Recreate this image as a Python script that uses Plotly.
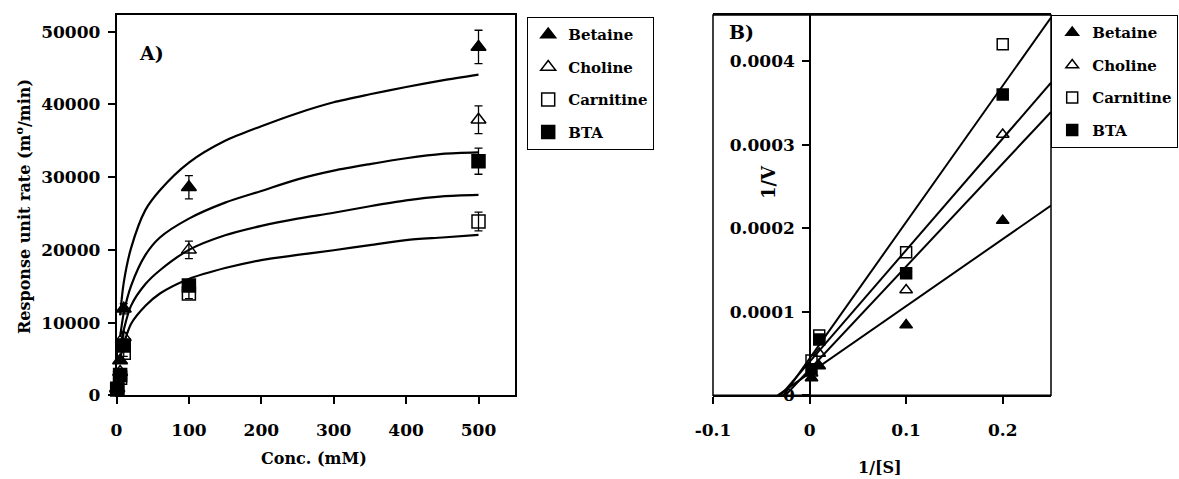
import plotly.graph_objects as go

W, H = 1179, 479
FONT = "DejaVu Serif"
FS = 16
TFS = 17


def px(x):
    return x / W


def py(y):
    return 1 - y / H


# ---------------- data ----------------
series = ["Betaine", "Choline", "Carnitine", "BTA"]

# Panel A: response rate vs concentration
conc = [1, 5, 10, 100, 500]
rate_betaine = [1000, 4800, 11900, 28600, 47900]
err_betaine = [200, 400, 700, 1600, 2300]
rate_choline = [900, 3200, 8000, 20000, 37900]
err_choline = [150, 300, 600, 1200, 1900]
rate_carnitine = [800, 2400, 5850, 14000, 23900]
err_carnitine = [150, 300, 500, 700, 1300]
rate_bta = [900, 2800, 6850, 15100, 32200]
err_bta = [150, 300, 500, 700, 1800]

# Panel A: fitted curves
curve_x = [5, 10, 20, 40, 60, 100, 150, 200, 250, 300, 350, 400, 450, 500]
curve_betaine = [11000, 15500, 20200, 25500, 28200, 32000, 35000, 37000, 38800, 40300, 41400, 42400, 43300, 44100]
curve_choline = [8000, 11300, 15000, 19300, 21700, 24300, 26500, 28100, 29700, 30900, 31800, 32600, 33200, 33400]
curve_bta = [6500, 9000, 12300, 15300, 17200, 20000, 22000, 23300, 24300, 25100, 26000, 26800, 27350, 27550]
curve_carnitine = [5000, 7000, 9800, 12300, 14000, 16000, 17500, 18600, 19300, 19950, 20650, 21350, 21700, 22050]

# Panel B: Lineweaver-Burk
inv_s = [0.002, 0.01, 0.1, 0.2]
inv_v_betaine = [0.0000208, 0.0000350, 0.0000840, 0.000209]
inv_v_choline = [0.0000264, 0.0000500, 0.0001260, 0.000312]
inv_v_carnitine = [0.0000415, 0.0000714, 0.000171, 0.000420]
inv_v_bta = [0.0000313, 0.0000667, 0.000146, 0.000360]

# Panel B fitted lines: x where line meets y=0, and y at x=0.25
lb_x_start = [-0.033, -0.030, -0.027, -0.025]   # Betaine, Choline, Carnitine, BTA
lb_x_end = 0.25
lb_y_end = [0.000227, 0.000374, 0.000452, 0.000339]

a_tick_x = [0, 100, 200, 300, 400, 500]
a_tick_y = [0, 10000, 20000, 30000, 40000, 50000]
b_tick_x = [-0.1, 0, 0.1, 0.2]
b_tick_x_text = ["-0.1", "0", "0.1", "0.2"]
b_tick_y = [0, 0.0001, 0.0002, 0.0003, 0.0004]
b_tick_y_text = ["0", "0.0001", "0.0002", "0.0003", "0.0004"]

# ---------------- styles ----------------
sym = {"Betaine": "triangle-up", "Choline": "triangle-up-open",
       "Carnitine": "square-open", "BTA": "square"}
rates = {"Betaine": (rate_betaine, err_betaine), "Choline": (rate_choline, err_choline),
         "Carnitine": (rate_carnitine, err_carnitine), "BTA": (rate_bta, err_bta)}
curves = [curve_betaine, curve_choline, curve_bta, curve_carnitine]
invv = {"Betaine": inv_v_betaine, "Choline": inv_v_choline,
        "Carnitine": inv_v_carnitine, "BTA": inv_v_bta}

fig = go.Figure()

# fitted curves A
for c in curves:
    fig.add_trace(go.Scatter(x=curve_x, y=c, mode="lines",
                             line=dict(color="black", width=2.2, shape="spline", smoothing=0.8),
                             showlegend=False, hoverinfo="skip", xaxis="x", yaxis="y"))

# data A
for s in series:
    r, e = rates[s]
    fig.add_trace(go.Scatter(
        x=conc, y=r, mode="markers", name=s, legend="legend", legendgroup="a" + s,
        marker=dict(symbol=sym[s], size=13, color="black", line=dict(color="black", width=1.5)),
        error_y=dict(type="data", array=e, color="black", thickness=1.3, width=4),
        xaxis="x", yaxis="y", cliponaxis=False))

# fitted lines B
for i, s in enumerate(series):
    fig.add_trace(go.Scatter(x=[lb_x_start[i], lb_x_end], y=[0, lb_y_end[i]], mode="lines",
                             line=dict(color="black", width=2), showlegend=False, hoverinfo="skip",
                             xaxis="x2", yaxis="y2"))

# data B
for s in series:
    fig.add_trace(go.Scatter(
        x=inv_s, y=invv[s], mode="markers", name=s, legend="legend2", legendgroup="b" + s,
        marker=dict(symbol=sym[s], size=11, color="black", line=dict(color="black", width=1.5)),
        xaxis="x2", yaxis="y2"))

tickfont = dict(family=FONT, size=TFS, color="black", weight="bold")
axis_common = dict(showgrid=False, zeroline=False, showline=True, linecolor="black", linewidth=1.5,
                   ticks="outside", ticklen=7, tickwidth=1.5, tickcolor="black", tickfont=tickfont)

legend_common = dict(yanchor="top", bordercolor="black", borderwidth=1.2,
                     bgcolor="white", font=dict(family=FONT, size=15, color="black", weight="bold"),
                     traceorder="grouped", tracegroupgap=10, itemwidth=30)

afont = dict(family=FONT, size=FS, color="black", weight="bold")

fig.update_layout(
    width=W, height=H, margin=dict(l=0, r=0, t=0, b=0, autoexpand=False),
    plot_bgcolor="white", paper_bgcolor="white",
    font=dict(family=FONT, size=FS, color="black", weight="bold"),
    xaxis=dict(domain=[px(116.5), px(514.7)], range=[0, 550], tickvals=a_tick_x, anchor="y",
               mirror=True, ticklabelstandoff=12, **axis_common),
    yaxis=dict(domain=[py(395.3), py(15)], range=[0, 52300], tickvals=a_tick_y, tickformat="d",
               anchor="x", mirror=True, ticklabelstandoff=4, **axis_common),
    xaxis2=dict(domain=[px(713), px(1051)], range=[-0.1, 0.25], tickvals=b_tick_x, ticktext=b_tick_x_text,
                anchor="y2", mirror=True, ticklabelstandoff=12, **axis_common),
    yaxis2=dict(domain=[py(395.3), py(15)], range=[0, 0.000455], tickvals=b_tick_y, ticktext=b_tick_y_text,
                anchor="free", position=px(810), ticklabelstandoff=4, **axis_common),
    legend=dict(x=px(527), y=py(17), xanchor="left", **legend_common),
    legend2=dict(x=px(1178), y=py(15), xanchor="right", **legend_common),
    shapes=[dict(type="rect", xref="x2 domain", yref="y2 domain", x0=0, x1=1, y0=0, y1=1,
                 line=dict(color="black", width=1.5), layer="above")],
    annotations=[
        dict(text="A)", x=px(137), y=py(53), xref="paper", yref="paper", xanchor="left", yanchor="middle",
             showarrow=False, font=dict(family=FONT, size=19, color="black")),
        dict(text="B)", x=px(727), y=py(32), xref="paper", yref="paper", xanchor="left", yanchor="middle",
             showarrow=False, font=dict(family=FONT, size=19, color="black")),
        dict(text="Response unit rate (m<sup>o</sup>/min)", x=px(23), y=py(207), xref="paper", yref="paper",
             xanchor="center", yanchor="middle", textangle=-90, showarrow=False, font=afont),
        dict(text="Conc. (mM)", x=px(314), y=py(458), xref="paper", yref="paper",
             xanchor="center", yanchor="middle", showarrow=False, font=afont),
        dict(text="1/V", x=px(768), y=py(182), xref="paper", yref="paper", textangle=-90,
             xanchor="center", yanchor="middle", showarrow=False,
             font=dict(family=FONT, size=18, color="black", weight="bold")),
        dict(text="1/[S]", x=px(880), y=py(467), xref="paper", yref="paper",
             xanchor="center", yanchor="middle", showarrow=False, font=afont),
    ],
)

fig.write_html("out.html")
